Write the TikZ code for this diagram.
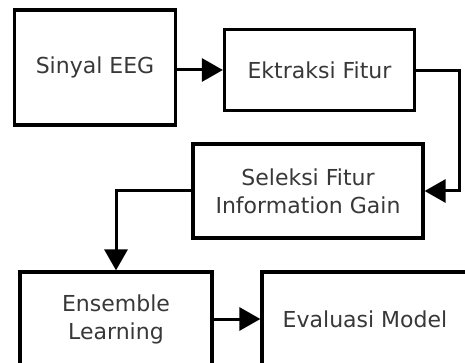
\documentclass[tikz,border=0pt]{standalone}
\usepackage{fontspec}
\setmainfont{DejaVu Sans}
\usetikzlibrary{arrows.meta}
\begin{document}
\begin{tikzpicture}[x=1pt,y=-1pt,
  box/.style={draw=black, line width=3.2pt, fill=white, inner sep=0pt, align=center,
    font=\fontsize{22}{28}\selectfont, text=black!78},
  conn/.style={draw=black, line width=3pt, -{Triangle[length=21pt,width=23pt]}}]
\useasboundingbox (0,0) rectangle (465,363);
\clip (0,0) rectangle (465,363);
\fill[white] (0,0) rectangle (465,363);
\node[box, minimum width=161pt, minimum height=115pt] (b1) at (95,67.5) {Sinyal EEG};
\node[box, minimum width=190pt, minimum height=81pt] (b2) at (319.5,70) {Ektraksi Fitur};
\node[box, minimum width=230pt, minimum height=94pt] (b3) at (308,191) {Seleksi Fitur\\Information Gain};
\node[box, minimum width=192pt, minimum height=94pt] (b4) at (116,319) {Ensemble\\Learning};
\node[box, minimum width=206pt, minimum height=94pt] (b5) at (365,319) {Evaluasi Model};
\coordinate (c1) at (459,71);
\draw[conn] (b1.east |- b2) -- (b2.west);
\draw[conn] (b2.east |- c1) -- (c1) |- (b3.east);
\draw[conn] (b3.west) -| (b4.north);
\draw[conn] (b4.east) -- (b5.west);
\end{tikzpicture}
\end{document}
